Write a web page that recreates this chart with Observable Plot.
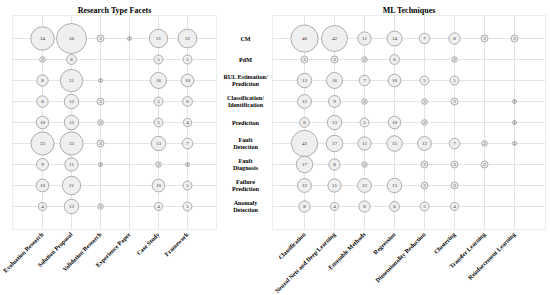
<!DOCTYPE html>
<html>
<head>
<meta charset="utf-8">
<script src="https://cdn.jsdelivr.net/npm/d3@7"></script>
<script src="https://cdn.jsdelivr.net/npm/@observablehq/plot@0.6"></script>
<style>
  html, body { margin: 0; padding: 0; background: #fff; }
  #wrap { position: relative; width: 550px; height: 295px; overflow: hidden; }
  #left, #right { position: absolute; top: 0; }
  #left { left: 0; }
  #right { left: 218px; }
  svg { overflow: visible; }
</style>
</head>
<body>
<div id="wrap"><div id="left"></div><div id="right"></div></div>
<script>
const rows = ["CM", "PdM", "RUL Estimation/\nPrediction", "Classification/\nIdentification", "Prediction", "Fault\nDetection", "Fault\nDiagnosis", "Failure\nPrediction", "Anomaly\nDetection"];
const researchCols = ["Evaluation Research", "Solution Proposal", "Validation Research", "Experience Paper", "Case Study", "Framework"];
const mlCols = ["Classification", "Neural Nets and Deep Learning", "Ensemble Methods", "Regression", "Dimensionality Reduction", "Clustering", "Transfer Learning", "Reinforcement Learning"];

const researchValues = [
  [34, 56, 3, 1, 21, 22],
  [2, 6, null, null, 5, 5],
  [8, 31, 1, null, 16, 10],
  [8, 13, 3, null, 5, 6],
  [10, 13, 2, null, 5, 4],
  [33, 33, 3, null, 13, 7],
  [9, 11, 1, null, 2, 1],
  [10, 21, null, null, 10, 5],
  [4, 13, 2, null, 4, 5]
];
const mlValues = [
  [46, 42, 11, 14, 7, 8, 3, 3],
  [3, 3, 2, 6, null, 2, null, null],
  [13, 16, 7, 10, 5, 5, null, null],
  [12, 9, 2, null, 2, 3, null, 1],
  [6, 13, 5, 10, 2, null, null, 1],
  [43, 17, 11, 15, 12, 7, 2, 1],
  [17, 8, 2, null, 3, 3, 3, null],
  [12, 11, 12, 13, 3, 3, null, null],
  [8, 4, 8, 6, 5, 4, null, null]
];

function flatten(cols, values) {
  const out = [];
  rows.forEach((r, i) => cols.forEach((c, j) => {
    const v = values[i][j];
    if (v != null) out.push({row: r, col: c, value: v});
  }));
  return out;
}

const font = "'Liberation Serif', 'Times New Roman', serif";
const rScale = {type: "sqrt", domain: [0, 56], range: [0, 15]};

function panel(cols, data, opts) {
  return Plot.plot({
    width: opts.width,
    height: 295,
    marginTop: 15,
    marginBottom: 66,
    marginLeft: opts.marginLeft,
    marginRight: opts.marginRight,
    style: {fontFamily: font, background: "transparent", color: "#000", overflow: "visible"},
    x: {type: "point", domain: cols, padding: 1, label: null},
    y: {type: "point", domain: rows, padding: 1, label: null},
    r: rScale,
    marks: [
      Plot.frame({stroke: "#ececec"}),
      Plot.gridX({stroke: "#e4e4e4", strokeOpacity: 1}),
      Plot.gridY({stroke: "#e4e4e4", strokeOpacity: 1}),
      Plot.dot(data, {x: "col", y: "row", r: "value", fill: "#efefef", stroke: "#9a9a9a", strokeWidth: 0.8}),
      Plot.text(data, {x: "col", y: "row", text: d => String(d.value), fontSize: 5, fill: "#333"}),
      Plot.axisX({tickRotate: -45, tickSize: 0, tickPadding: 4, fontSize: 6.1, fontWeight: "bold", label: null}),
      Plot.axisY({ticks: [], label: null}),
      Plot.text([opts.title], {frameAnchor: "top", dy: -8, fontSize: 8, fontWeight: "bold", text: d => d}),
      ...(opts.rowLabels ? [Plot.text(rows, {y: d => d, text: d => d, frameAnchor: "left", dx: -27, textAnchor: "middle", fontSize: 6.1, fontWeight: "bold", lineHeight: 1.15})] : [])
    ]
  });
}

document.getElementById("left").append(panel(researchCols, flatten(researchCols, researchValues), {width: 218, marginLeft: 12, marginRight: 2, title: "Research Type Facets", rowLabels: false}));
document.getElementById("right").append(panel(mlCols, flatten(mlCols, mlValues), {width: 332, marginLeft: 54, marginRight: 5, title: "ML Techniques", rowLabels: true}));
</script>
</body>
</html>
